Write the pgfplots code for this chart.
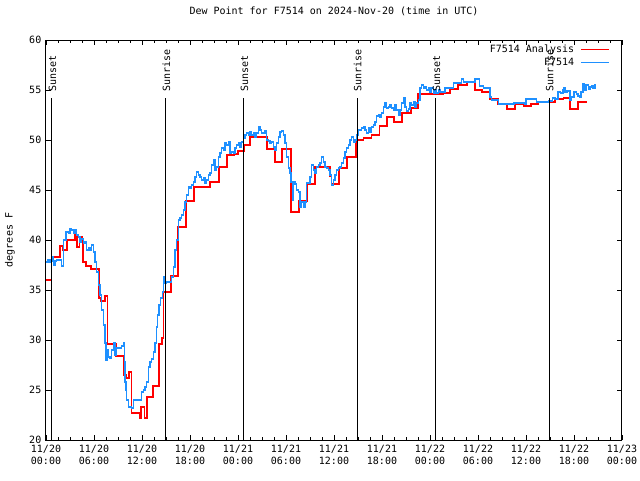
\documentclass[border=0pt]{standalone}
\usepackage{fontspec}
\setmainfont{DejaVu Sans Mono}
\usepackage{pgfplots}
\pgfplotsset{compat=1.18}
\definecolor{obsblue}{RGB}{30,144,255}
\begin{document}
\begin{tikzpicture}[font=\fontsize{7.5}{9}\selectfont]
\path[use as bounding box] (-34.5pt,-30pt) rectangle (445.5pt,330pt);
\begin{axis}[
 at={(0,0)}, anchor=south west,
 scale only axis, width=432pt, height=300pt,
 xmin=0, xmax=72, ymin=20, ymax=60,
 xtick={0,6,...,72},
 xticklabels={{11/20\\00:00},{11/20\\06:00},{11/20\\12:00},{11/20\\18:00},{11/21\\00:00},{11/21\\06:00},{11/21\\12:00},{11/21\\18:00},{11/22\\00:00},{11/22\\06:00},{11/22\\12:00},{11/22\\18:00},{11/23\\00:00}},
 xticklabel style={align=center},
 minor x tick num=3,
 ytick={20,25,...,60},
 tick align=inside,
 major tick length=3.75pt, minor tick length=2.25pt,
 tick style={black, line width=0.6pt},
 axis line style={line width=0.75pt},
 /pgf/number format/assume math mode=true,
 title={Dew Point for F7514 on 2024-Nov-20 (time in UTC)},
 title style={at={(0.5,1)}, anchor=center, yshift=15.75pt},
 ylabel={degrees F},
 ylabel style={at={([xshift=-27pt]rel axis cs:0,0.5)}, anchor=center},
 legend style={at={(1,1)}, anchor=north east, xshift=-9pt, yshift=-2pt, draw=none, fill=none, inner sep=0pt, row sep=0pt, column sep=4pt,
   nodes={inner sep=0.6pt, text height=6.5pt, text depth=2pt}},
 legend cell align=right,
 legend plot pos=right,
 legend image code/.code={\draw[#1] (0pt,0pt) -- (21pt,0pt);},
]
\addplot[const plot, red, line width=1.1pt] coordinates {
(0,36.0) (0.69,38.3) (1.75,39.4) (2.1,39.0) (2.6,40.0) (3.6,40.5) (3.9,39.3) (4.2,40.3) (4.5,39.8) (4.6,37.8) (5.0,37.4) (5.6,37.1) (6.6,34.2) (6.9,33.9) (7.4,34.4) (7.66,29.6) (8.75,28.4) (9.66,26.5) (10.0,26.2) (10.4,26.8) (10.66,22.7) (11.7,22.2) (11.9,23.3) (12.3,22.2) (12.6,24.3) (13.4,25.4) (14.1,29.6) (14.5,30.2) (14.7,34.8) (15.6,36.4) (16.5,41.3) (17.5,43.9) (18.5,45.3) (20.5,45.8) (21.6,47.3) (22.6,48.5) (23.5,48.6) (24.0,48.9) (24.75,49.5) (25.5,50.3) (27.6,49.1) (28.6,47.8) (29.5,49.1) (30.6,42.8) (31.6,43.9) (32.6,45.6) (33.6,47.3) (35.5,46.4) (35.7,45.6) (36.6,47.2) (37.6,48.3) (38.75,50.0) (39.7,50.2) (40.7,50.5) (41.7,51.4) (42.6,52.3) (43.5,51.8) (44.5,52.7) (45.6,53.2) (46.5,54.6) (49.6,54.7) (50.5,55.1) (51.5,55.5) (52.6,55.8) (53.6,55.0) (54.5,54.8) (55.5,54.1) (56.5,53.6) (57.6,53.1) (58.6,53.6) (59.7,53.4) (60.6,53.6) (61.5,53.8) (63.6,54.1) (64.7,54.2) (65.5,53.1) (66.5,53.8) (67.6,53.8)
};
\addlegendentry{F7514 Analysis}
\addplot[const plot, obsblue, line width=1.1pt] coordinates {
(0,37.8) (0.25,38.0) (0.5,37.8) (0.71,38.3) (0.88,37.9) (1.0,37.5) (1.125,37.9) (1.34,38.0) (1.75,38.0) (1.96,37.4) (2.16,40.0) (2.5,40.8) (2.79,40.7) (3.0,41.1) (3.21,41.0) (3.41,40.7) (3.63,41.0) (3.84,40.5) (4.04,40.3) (4.25,39.8) (4.46,40.1) (4.66,39.7) (4.88,39.8) (5.09,39.0) (5.29,39.2) (5.5,39.0) (5.71,39.5) (5.91,38.8) (6.13,37.8) (6.34,36.8) (6.54,35.5) (6.75,34.5) (6.96,33.0) (7.16,31.5) (7.38,29.7) (7.5,28.0) (7.6,29.0) (7.79,28.3) (8.0,28.2) (8.21,29.0) (8.41,29.7) (8.63,28.5) (8.84,29.2) (9.25,29.2) (9.46,29.4) (9.66,29.7) (9.78,27.8) (9.88,25.8) (10.0,25.0) (10.09,24.0) (10.29,23.3) (10.71,23.2) (10.91,24.0) (11.75,24.0) (11.96,24.8) (12.16,25.0) (12.38,25.3) (12.59,25.8) (12.79,27.3) (13.0,27.8) (13.21,28.1) (13.41,28.8) (13.63,29.7) (13.84,31.3) (13.96,32.5) (14.13,33.5) (14.34,34.2) (14.54,34.8) (14.66,36.3) (14.88,35.7) (15.09,35.8) (15.5,35.8) (15.71,36.3) (15.91,37.3) (16.13,39.0) (16.34,40.0) (16.54,42.0) (16.75,42.2) (16.96,42.5) (17.16,43.0) (17.38,43.8) (17.59,44.5) (17.79,45.3) (18.0,45.2) (18.21,45.5) (18.41,45.8) (18.63,46.3) (18.84,46.8) (19.04,46.5) (19.25,46.3) (19.46,46.0) (19.66,46.2) (19.88,45.7) (20.09,46.0) (20.29,46.5) (20.5,46.7) (20.71,47.5) (20.91,48.0) (21.13,47.0) (21.34,47.3) (21.54,48.3) (21.75,48.7) (21.96,49.2) (22.16,49.0) (22.38,49.7) (22.59,49.5) (22.79,49.8) (23.0,48.7) (23.21,48.8) (23.41,48.7) (23.63,49.2) (23.84,49.5) (24.04,49.7) (24.25,49.3) (24.46,49.8) (24.66,50.2) (24.88,50.5) (25.09,50.7) (25.29,50.5) (25.5,50.8) (25.71,50.5) (25.91,50.7) (26.13,50.3) (26.34,50.7) (26.54,51.3) (26.75,51.0) (26.96,50.7) (27.16,50.7) (27.38,50.9) (27.59,50.0) (27.79,49.9) (28.0,49.7) (28.21,49.8) (28.41,49.3) (28.63,49.0) (28.84,49.7) (29.04,50.3) (29.25,50.8) (29.46,50.9) (29.66,50.5) (29.88,49.7) (30.09,48.3) (30.29,47.2) (30.5,46.7) (30.63,45.8) (30.79,44.0) (30.91,45.8) (31.13,45.6) (31.34,45.0) (31.54,44.8) (31.75,43.3) (31.96,43.8) (32.16,43.3) (32.38,43.8) (32.59,45.7) (32.79,45.7) (33.0,46.3) (33.21,47.5) (33.41,47.0) (33.63,46.7) (33.84,47.3) (34.04,47.5) (34.25,47.7) (34.46,48.3) (34.66,47.8) (34.88,47.3) (35.09,47.2) (35.29,47.0) (35.5,46.5) (35.71,45.5) (35.91,46.0) (36.13,46.5) (36.34,47.0) (36.54,47.2) (36.75,47.3) (36.96,47.7) (37.16,48.2) (37.38,48.8) (37.59,49.2) (37.79,49.5) (38.0,50.0) (38.21,50.3) (38.41,49.8) (38.63,50.0) (38.84,50.5) (39.04,51.0) (39.25,51.0) (39.46,51.2) (39.66,51.3) (39.88,51.0) (40.09,50.7) (40.29,51.2) (40.5,50.8) (40.71,51.3) (40.91,51.5) (41.13,51.8) (41.34,52.4) (41.54,52.5) (41.75,52.3) (41.96,52.7) (42.16,53.3) (42.38,53.7) (42.59,53.2) (42.79,53.3) (43.0,53.5) (43.21,53.2) (43.41,53.0) (43.63,53.5) (43.84,53.0) (44.04,52.5) (44.25,53.0) (44.46,53.7) (44.66,54.2) (44.88,53.3) (45.09,52.9) (45.29,53.1) (45.5,53.7) (45.71,53.5) (45.91,53.8) (46.13,53.3) (46.34,53.7) (46.54,54.0) (46.75,55.2) (46.96,55.5) (47.16,55.2) (47.38,55.3) (47.59,55.0) (47.79,55.2) (48.0,54.8) (48.21,55.2) (48.41,54.7) (48.63,55.0) (48.84,54.7) (49.04,55.0) (49.25,54.8) (49.88,55.2) (50.5,55.2) (50.91,55.7) (51.96,56.1) (52.16,55.8) (53.41,55.8) (53.63,56.1) (54.16,55.4) (54.66,55.2) (55.29,55.2) (55.5,54.3) (55.71,54.0) (56.54,53.6) (57.5,53.6) (58.5,53.7) (59.9,53.6) (60.0,54.1) (61.1,54.1) (61.3,53.8) (62.5,53.8) (62.9,53.9) (63.3,54.2) (63.6,54.1) (64.0,54.8) (64.3,54.7) (64.6,55.0) (64.7,55.2) (64.9,54.8) (65.1,54.9) (65.5,54.0) (65.7,54.3) (66.0,54.8) (66.3,54.6) (66.5,54.4) (66.7,54.3) (66.9,54.8) (67.1,55.6) (67.3,55.0) (67.5,55.5) (67.8,55.1) (68.0,55.3) (68.2,55.4) (68.4,55.2) (68.6,55.6)
};
\addlegendentry{F7514}
\addplot[black, line width=0.75pt, forget plot] coordinates {(0.75,20) (0.75,54.2)};
\addplot[black, line width=0.75pt, forget plot] coordinates {(15.0,20) (15.0,54.2)};
\addplot[black, line width=0.75pt, forget plot] coordinates {(24.75,20) (24.75,54.2)};
\addplot[black, line width=0.75pt, forget plot] coordinates {(38.9,20) (38.9,54.2)};
\addplot[black, line width=0.75pt, forget plot] coordinates {(48.75,20) (48.75,54.2)};
\addplot[black, line width=0.75pt, forget plot] coordinates {(62.9,20) (62.9,54.2)};
\node[rotate=90, anchor=west, inner sep=0pt] at (axis cs:0.8,54.8) {Sunset};
\node[rotate=90, anchor=west, inner sep=0pt] at (axis cs:15.05,54.8) {Sunrise};
\node[rotate=90, anchor=west, inner sep=0pt] at (axis cs:24.8,54.8) {Sunset};
\node[rotate=90, anchor=west, inner sep=0pt] at (axis cs:38.95,54.8) {Sunrise};
\node[rotate=90, anchor=west, inner sep=0pt] at (axis cs:48.8,54.8) {Sunset};
\node[rotate=90, anchor=west, inner sep=0pt] at (axis cs:62.95,54.8) {Sunrise};
\end{axis}
\end{tikzpicture}
\end{document}
